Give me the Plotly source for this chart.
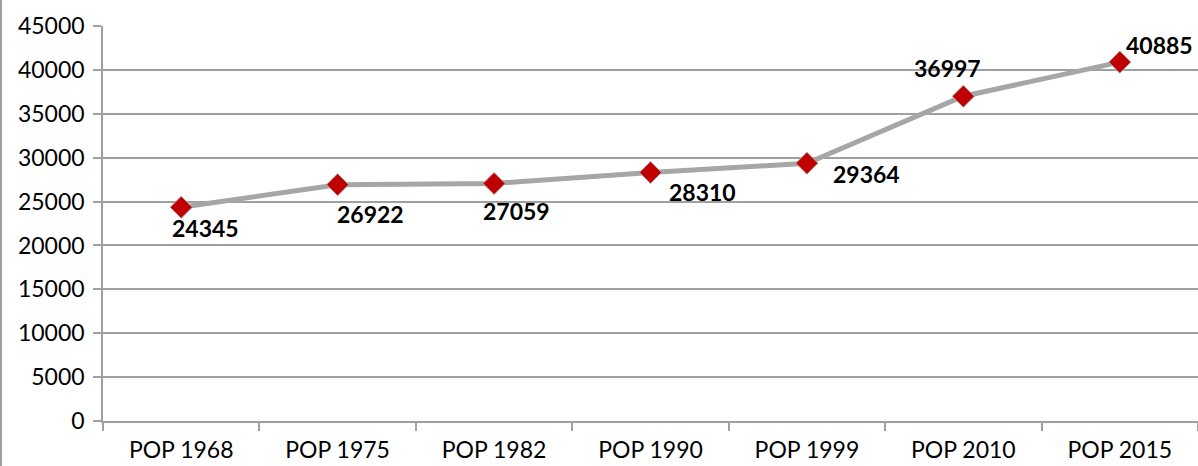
import plotly.graph_objects as go

categories = ["POP 1968", "POP 1975", "POP 1982", "POP 1990", "POP 1999", "POP 2010", "POP 2015"]
population = [24345, 26922, 27059, 28310, 29364, 36997, 40885]
y_ticks = [0, 5000, 10000, 15000, 20000, 25000, 30000, 35000, 40000, 45000]

# label offsets (style): (xshift, yshift) in px
label_offsets = [(24, -21), (33, -29), (22, -28), (52, -19), (60, -11), (-16, 28), (40, 17)]

fig = go.Figure()
fig.add_trace(go.Scatter(
    x=categories, y=population, mode="lines+markers",
    line=dict(color="#A6A6A6", width=5),
    marker=dict(symbol="diamond", size=17, color="#C00000",
                line=dict(color="#A6A6A6", width=1)),
    hoverinfo="skip", showlegend=False,
))

for i, (c, v) in enumerate(zip(categories, population)):
    dx, dy = label_offsets[i]
    fig.add_annotation(x=c, y=v, text=str(v), showarrow=False,
                       xshift=dx, yshift=dy,
                       font=dict(family="Lato", size=23, color="#000000", weight="bold"))

fig.update_layout(
    width=1198, height=466,
    margin=dict(l=103, r=0, t=26, b=45),
    paper_bgcolor="white", plot_bgcolor="white",
    font=dict(family="Lato", size=23, color="#000000"),
    xaxis=dict(type="category", range=[-0.5, 6.5], showgrid=False,
               tickson="boundaries", ticks="outside", ticklen=8,
               tickcolor="#A0A0A0", tickwidth=1.5,
               showline=True, linecolor="#A0A0A0", linewidth=1.5,
               ticklabelstandoff=8),
    yaxis=dict(range=[0, 45000], tickvals=y_ticks, ticktext=[str(t) for t in y_ticks],
               showgrid=True, gridcolor="#A0A0A0", gridwidth=1.5,
               ticks="outside", ticklen=8, tickcolor="#A0A0A0", tickwidth=1.5,
               showline=True, linecolor="#A0A0A0", linewidth=1.5,
               zeroline=False, ticklabelstandoff=4),
)

fig.add_shape(type="line", xref="paper", yref="paper",
              x0=-102/1095, x1=-102/1095, y0=-45/395, y1=1 + 26/395,
              line=dict(color="#A0A0A0", width=2))

fig.write_html("out.html", config={"displayModeBar": False},
               post_script="document.body.style.margin='0';document.body.style.overflow='hidden';")
